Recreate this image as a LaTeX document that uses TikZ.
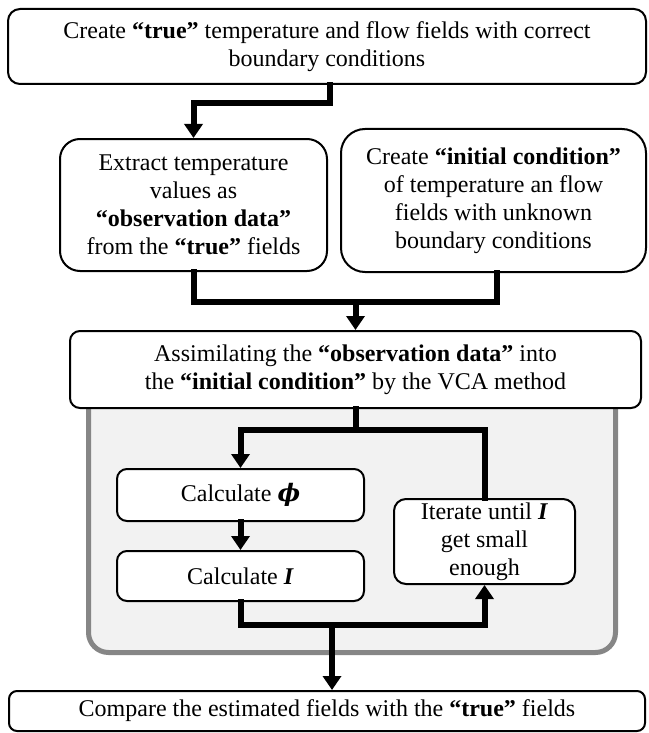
\documentclass[tikz,border=0pt]{standalone}
\usepackage{fontspec}
\setmainfont{Liberation Serif}
\newfontfamily\greekfont{DejaVu Serif}
\usetikzlibrary{arrows.meta}
\definecolor{PanelFill}{HTML}{F2F2F2}
\definecolor{PanelEdge}{HTML}{868686}

\begin{document}
\begin{tikzpicture}[x=0.5pt,y=-0.5pt,
    box/.style={draw,line width=1pt,fill=white,align=center,inner sep=0pt,
      font=\fontsize{12}{14}\selectfont},
    conn/.style={line width=3pt,line cap=rect},
    flow/.style={conn,-{Triangle[width=9pt,length=7pt]}}]
        \useasboundingbox (0,0) rectangle (648,733);
        \filldraw[PanelEdge,fill=PanelFill,line width=2.5pt,rounded corners=10pt]
          (88.5,380) rectangle (615.5,652.5);
        \node[box,rounded corners=6pt,minimum width=319pt,minimum height=37.5pt] (top) at (327,46.5)
          {Create \textbf{“true”} temperature and flow fields with correct\\boundary conditions};
        \node[box,rounded corners=10pt,minimum width=133.5pt,minimum height=66pt] (extract) at (193.5,205)
          {Extract temperature\\values as\\\textbf{“observation data”}\\from the \textbf{“true”} fields};
        \node[box,rounded corners=12pt,minimum width=152.5pt,minimum height=71.5pt] (initcond) at (493.5,200.5)
          {Create \textbf{“initial condition”}\\of temperature an flow\\fields with unknown\\boundary conditions};
        \node[box,rounded corners=5pt,minimum width=285.5pt,minimum height=38.5pt] (assim) at (355.5,369.5)
          {Assimilating the \textbf{“observation data”} into\\the \textbf{“initial condition”} by the VCA method};
        \node[box,rounded corners=5pt,minimum width=123.5pt,minimum height=26pt] (phi) at (240.5,495)
          {Calculate {\greekfont\bfseries\itshape ϕ}};
        \node[box,rounded corners=5pt,minimum width=123.5pt,minimum height=25pt] (calcI) at (240.5,576)
          {Calculate \textbf{\textit{I}}};
        \node[box,rounded corners=6pt,minimum width=90.5pt,minimum height=42.5pt] (iter) at (484.5,541.5)
          {Iterate until \textbf{\textit{I}}\\get small\\enough};
        \node[box,rounded corners=4pt,minimum width=318pt,minimum height=20pt] (compare) at (327,711)
          {Compare the estimated fields with the \textbf{“true”} fields};
        \coordinate (j1) at (330,103);
        \coordinate (j2) at (355.5,302);
        \coordinate (j3) at (355.5,430);
        \coordinate (j4) at (332,625);
        \draw[flow] (top.south -| j1) -- (j1) -| (extract.north);
        \draw[conn] (extract.south) |- (j2) -| ([xshift=1.5pt]initcond.south);
        \draw[flow] (j2) -- (assim.north);
        \draw[conn] (assim.south) -- (j3);
        \draw[flow] (iter.north) |- (j3) -| (phi.north);
        \draw[flow] (phi.south) -- (calcI.north);
        \draw[flow] (calcI.south) |- (j4) -| (iter.south);
        \draw[flow] (j4) -- (j4 |- compare.north);
      \end{tikzpicture}
\end{document}
